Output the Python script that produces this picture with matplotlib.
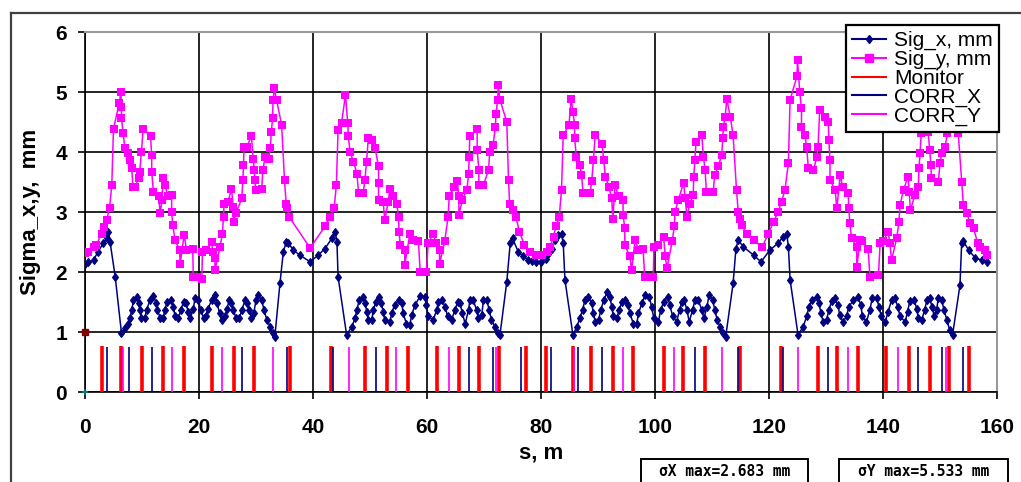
import matplotlib
matplotlib.use("Agg")
import matplotlib.pyplot as plt
from matplotlib.lines import Line2D
from matplotlib.patches import Rectangle

# ---- data ----
# Sig_x, mm
sx_s = [0.0, 0.6, 1.5, 2.3, 3.2, 3.8, 4.1, 4.4, 5.3, 6.4,
        7.0, 7.6, 7.9, 8.2, 8.5, 9.1, 9.5, 9.6, 9.9, 10.5, 10.8, 11.4, 12.0, 12.5, 12.7, 13.2,
        13.7, 14.0, 14.4, 15.0, 15.5, 15.8, 16.4, 16.8, 17.3, 17.7, 18.1, 18.5, 19.0, 19.3,
        19.9, 20.3, 20.8, 21.2, 21.6, 22.2, 22.8, 23.2, 23.6, 24.0, 24.6, 24.9, 25.3, 25.7,
        26.0, 26.5, 27.1, 27.5, 28.1, 28.5, 28.8, 29.2, 29.6, 30.0, 30.4, 31.0, 31.4, 31.9,
        32.5, 32.9, 33.3, 34.2, 34.8, 35.3, 35.7, 36.5, 37.7, 39.5,
        40.9, 42.1, 43.3, 43.9, 44.2, 44.4, 45.9, 46.8, 47.4, 47.7, 48.1, 48.8, 49.2, 49.4,
        49.7, 50.3, 50.6, 51.0, 51.6, 52.0, 52.3, 52.6, 53.5, 53.8, 54.3, 55.0, 55.6, 55.8,
        56.4, 57.0, 57.3, 57.9, 58.8, 59.6, 59.9, 60.2, 61.1, 61.7, 62.0, 62.6, 63.2, 63.6,
        64.3, 64.9, 65.4, 65.8, 66.2, 66.7, 67.3, 67.5, 68.1, 68.7, 69.0, 69.6, 69.9, 70.5,
        70.9, 71.3, 71.9, 72.5, 72.8, 74.0, 74.6, 75.0, 76.0, 76.9, 77.8, 78.5, 79.2, 80.0,
        80.8, 81.3,
        81.9, 82.5, 83.0, 83.6, 83.9, 84.2, 85.6, 86.3, 86.8, 87.3, 87.7, 88.3, 88.9, 89.2,
        89.5, 90.1, 90.5, 91.0, 91.6, 92.1, 92.4, 92.7, 93.3, 93.7, 94.2, 94.7, 95.3, 95.6,
        96.2, 96.8, 97.1, 97.7, 98.3, 99.0, 99.4, 99.8, 100.6, 101.0, 101.5, 102.2, 102.6,
        103.1, 103.8, 104.3, 104.7, 105.1, 105.6, 106.0, 106.6, 107.0, 107.6, 108.2, 108.6,
        109.1, 109.5, 110.1, 110.5, 110.9, 111.4, 112.0, 112.4, 113.7, 114.2, 114.6, 115.5,
        117.3, 118.6,
        120.2, 121.6, 122.5, 123.1, 123.4, 123.7, 125.1, 126.0, 126.6, 127.0, 127.5, 128.4,
        128.8, 129.1, 129.5, 130.1, 130.5, 131.0, 131.5, 132.1, 132.4, 133.0, 133.6, 134.0,
        134.8, 135.6, 136.1, 136.4, 137.1, 137.7, 138.1, 138.9, 139.3, 139.7, 140.4, 140.9,
        141.5, 142.1, 142.6, 143.0, 143.9, 144.3, 144.7, 145.5, 145.9, 146.2, 146.8, 147.3,
        147.7, 148.2, 148.6, 149.0, 149.4, 149.7, 150.3, 150.7, 151.2, 151.7, 152.2, 153.5,
        153.8, 154.1, 155.0, 156.2, 157.3, 158.3]
sx_v = [2.14, 2.17, 2.20, 2.34, 2.48, 2.56, 2.67, 2.50, 1.92, 0.98,
        1.06, 1.14, 1.23, 1.37, 1.53, 1.59, 1.48, 1.37, 1.23, 1.23, 1.37, 1.53, 1.60, 1.48, 1.37, 1.23,
        1.23, 1.37, 1.50, 1.53, 1.42, 1.26, 1.23, 1.37, 1.50, 1.48, 1.34, 1.23, 1.39, 1.56,
        1.53, 1.37, 1.23, 1.26, 1.39, 1.53, 1.62, 1.48, 1.31, 1.20, 1.26, 1.39, 1.53, 1.48,
        1.37, 1.23, 1.23, 1.37, 1.53, 1.48, 1.37, 1.23, 1.31, 1.53, 1.62, 1.53, 1.37, 1.20,
        1.09, 0.98, 0.92, 1.81, 2.34, 2.50, 2.48, 2.37, 2.28, 2.17,
        2.28, 2.39, 2.56, 2.67, 2.50, 1.92, 0.95, 1.09, 1.23, 1.37, 1.53, 1.59, 1.48, 1.34,
        1.20, 1.20, 1.37, 1.50, 1.59, 1.48, 1.34, 1.20, 1.17, 1.31, 1.45, 1.53, 1.48, 1.31,
        1.14, 1.12, 1.28, 1.45, 1.60, 1.59, 1.45, 1.26, 1.20, 1.37, 1.50, 1.53, 1.42, 1.26,
        1.20, 1.37, 1.50, 1.48, 1.31, 1.14, 1.37, 1.53, 1.53, 1.37, 1.23, 1.28, 1.53, 1.53,
        1.37, 1.20, 1.09, 0.98, 0.95, 1.84, 2.48, 2.56, 2.34, 2.26, 2.20, 2.18, 2.17, 2.17,
        2.22, 2.30,
        2.39, 2.53, 2.62, 2.64, 2.48, 1.87, 0.95, 1.09, 1.23, 1.37, 1.53, 1.59, 1.48, 1.31,
        1.17, 1.20, 1.37, 1.53, 1.66, 1.59, 1.42, 1.26, 1.23, 1.37, 1.50, 1.53, 1.45, 1.31,
        1.14, 1.14, 1.31, 1.48, 1.62, 1.59, 1.42, 1.23, 1.17, 1.37, 1.50, 1.59, 1.45,
        1.26, 1.17, 1.37, 1.50, 1.53, 1.37, 1.17, 1.37, 1.53, 1.53, 1.37, 1.23,
        1.42, 1.62, 1.53, 1.37, 1.20, 1.09, 0.98, 0.92, 1.81, 2.39, 2.53, 2.42,
        2.28, 2.17,
        2.37, 2.48, 2.59, 2.64, 2.42, 1.87, 0.95, 1.09, 1.26, 1.42, 1.53, 1.59,
        1.48, 1.31, 1.17, 1.20, 1.37, 1.51, 1.56, 1.45, 1.28, 1.17, 1.26, 1.42,
        1.53, 1.59, 1.45, 1.26, 1.17, 1.37, 1.56, 1.56, 1.42, 1.26, 1.17, 1.34,
        1.53, 1.56, 1.42, 1.26, 1.17, 1.34, 1.51, 1.53, 1.39, 1.23, 1.20, 1.37,
        1.53, 1.56, 1.42, 1.26, 1.37, 1.56, 1.53, 1.37, 1.20, 1.03, 0.95, 1.78,
        2.48, 2.51, 2.37, 2.23, 2.20, 2.17]

# Sig_y, mm
sy_s = [0.0, 0.6, 1.5, 2.0, 2.9, 3.3, 3.8, 4.3, 4.7, 5.0, 6.0, 6.3, 6.4, 6.4, 6.7, 7.0, 7.6,
        7.9, 8.2, 8.4, 8.8, 9.4, 9.6, 9.9, 10.2, 11.5, 11.7, 11.7, 12.0, 12.9, 13.2, 13.5,
        13.7, 14.0, 14.6, 15.2, 15.2, 15.4, 15.8, 16.6, 16.7, 17.4, 17.8, 18.9, 19.0, 19.7,
        20.5, 20.6, 21.3, 22.2, 22.4, 22.8, 22.8, 23.7, 24.1, 24.3, 24.4, 25.1, 25.7, 26.0,
        26.1, 26.5, 27.5, 27.7, 27.8, 27.9, 28.4, 29.2, 29.5, 29.7, 29.8, 30.0, 31.0, 31.2,
        31.6, 32.2, 32.5, 32.7, 32.9, 33.0, 33.2, 33.6, 34.5, 35.0, 35.3, 35.5, 35.8, 39.5,
        42.1, 43.0, 43.7, 44.1, 44.4, 45.0, 45.7, 46.1, 46.2, 46.5, 47.1, 47.7, 48.0, 48.8,
        49.1, 49.4, 49.7, 50.3, 50.9, 51.5, 51.5, 51.5, 52.3, 52.6, 53.2, 53.5, 54.1, 54.7,
        55.0, 55.1, 55.3, 56.1, 56.1, 57.0, 57.6, 58.5, 58.8, 59.9, 60.2, 61.1, 61.6, 62.2,
        62.2, 63.1, 63.7, 63.9, 64.8, 65.3, 65.6, 65.6, 66.2, 67.0, 67.3, 67.4, 67.5, 68.8,
        68.8, 69.1, 69.1, 69.9, 70.8, 71.0, 71.6, 72.0, 72.1, 72.4, 72.5, 72.8, 74.0, 74.3,
        74.5, 75.0, 75.6, 76.2, 77.1, 78.0, 79.1, 80.1, 81.0, 81.6,
        82.2, 82.6, 83.2, 83.6, 83.9, 84.9, 85.3, 85.6, 85.9, 85.9, 86.2, 86.8, 87.1, 87.4,
        88.6, 88.9, 89.2, 89.5, 90.7, 91.0, 91.3, 91.9, 92.4, 92.6, 93.0, 93.6, 94.4, 94.4,
        94.7, 94.7, 95.6, 95.9, 96.5, 97.1, 97.9, 98.2, 99.7, 99.8, 100.6, 101.5, 101.8,
        102.1, 103.0, 103.4, 103.5, 104.1, 105.0, 105.3, 105.6, 106.1, 106.7, 106.8, 107.0,
        107.2, 108.2, 108.5, 108.8, 109.0, 110.2, 110.5, 111.1, 111.7, 111.9, 112.0, 112.3,
        112.6, 113.2, 113.7, 114.3, 114.6, 114.9, 115.2, 116.1, 117.3, 118.8,
        119.9, 120.8, 121.6, 122.2, 122.8, 123.4, 123.7, 124.9, 125.0, 125.4, 125.7, 125.7,
        126.3, 126.6, 126.9, 127.8, 128.4, 128.6, 128.9, 129.8, 130.4, 130.5, 130.7, 130.7,
        131.6, 131.9, 132.5, 132.9, 133.9, 134.0, 134.2, 134.5, 135.4, 135.4, 136.0, 136.3,
        137.4, 137.7, 139.2, 139.5, 140.0, 140.9, 141.2, 141.5, 142.4, 142.8, 143.0, 143.6,
        144.4, 144.6, 144.8, 145.6, 146.2, 146.3, 146.5, 146.7, 147.0, 147.9, 148.2, 148.4,
        148.5, 149.7, 150.0, 150.3, 150.9, 151.3, 151.6, 151.9, 152.5, 153.2, 153.8, 154.1,
        154.7, 155.3, 155.9, 156.6, 157.0, 157.9, 158.3]
sy_v = [2.31, 2.34, 2.42, 2.45, 2.64, 2.75, 2.87, 3.06, 3.45, 4.39, 4.81, 5.00, 4.75, 4.56, 4.31, 4.06, 3.98,
        3.87, 3.73, 3.42, 3.42, 3.56, 3.67, 4.00, 4.39, 4.26, 3.95, 3.67, 3.34, 3.26, 2.98, 3.20,
        3.56, 3.45, 3.26, 3.28, 3.00, 2.78, 2.53, 2.37, 2.14, 2.62, 2.37, 2.39, 1.92, 1.92,
        1.89, 2.34, 2.37, 2.50, 2.34, 2.23, 2.03, 2.42, 2.64, 2.92, 3.14, 3.17, 3.39, 3.09,
        2.84, 2.98, 3.23, 3.53, 3.78, 4.09, 4.09, 4.26, 3.89, 3.70, 3.53, 3.37, 3.39, 3.70,
        3.92, 3.89, 4.06, 4.34, 4.56, 4.87, 5.06, 4.87, 4.45, 3.53, 3.14, 3.06, 2.92, 2.40,
        2.76, 2.92, 3.06, 3.45, 4.37, 4.48, 4.95, 4.48, 4.26, 4.00, 3.84, 3.64, 3.31, 3.31,
        3.53, 3.84, 4.23, 4.20, 4.06, 3.76, 3.48, 3.20, 3.17, 2.87, 3.17, 3.39, 3.26, 3.14,
        2.92, 2.67, 2.45, 2.37, 2.12, 2.64, 2.53, 2.51, 2.00, 2.00, 2.48, 2.64, 2.48, 2.37,
        2.14, 2.51, 2.92, 3.26, 3.42, 3.51, 3.26, 2.95, 3.20, 3.37, 3.64, 3.92, 4.26, 4.39,
        4.03, 3.70, 3.45, 3.45, 3.70, 4.00, 4.12, 4.42, 4.64, 4.87, 5.12, 4.87, 4.50, 3.53,
        3.14, 3.03, 2.92, 2.67, 2.45, 2.34, 2.28, 2.28, 2.34, 2.42,
        2.59, 2.76, 2.92, 3.37, 4.28, 4.45, 4.89, 4.67, 4.45, 4.23, 3.92, 3.78, 3.62, 3.31,
        3.31, 3.51, 3.87, 4.28, 4.14, 3.87, 3.59, 3.42, 3.23, 2.89, 3.45, 3.26, 3.20, 2.95,
        2.73, 2.45, 2.26, 2.03, 2.53, 2.37, 2.39, 1.92, 1.92, 2.42, 2.45, 2.59, 2.26,
        2.06, 2.51, 2.76, 3.00, 3.20, 3.48, 3.23, 2.92, 3.14, 3.28, 3.59, 3.87,
        4.17, 4.28, 3.92, 3.70, 3.34, 3.34, 3.62, 3.76, 3.95, 4.23, 4.42, 4.59,
        4.88, 4.59, 4.28, 3.37, 3.00, 2.89, 2.78, 2.64, 2.53, 2.42,
        2.64, 2.84, 3.00, 3.17, 3.37, 3.81, 4.87, 5.26, 5.53, 5.00, 4.73, 4.42,
        4.28, 4.09, 3.73, 3.70, 3.92, 4.09, 4.70, 4.59, 4.50, 4.20, 3.87, 3.53,
        3.37, 3.06, 3.62, 3.42, 3.31, 3.06, 2.81, 2.56, 2.42, 2.09, 2.53, 2.51,
        2.39, 1.92, 1.95, 2.48, 2.51, 2.67, 2.48, 2.20, 2.56, 2.84, 3.12, 3.37,
        3.59, 3.34, 3.03, 3.28, 3.42, 3.73, 3.98, 4.31, 4.60, 4.34, 4.03, 3.78,
        3.56, 3.50, 3.81, 3.98, 4.09, 4.31, 4.60, 4.90, 4.70, 4.31, 3.50, 3.12,
        2.98, 2.81, 2.73, 2.48, 2.42, 2.37, 2.28]

# element positions along s, m
monitor_s = [3.0, 6.4, 10.0, 13.6, 17.3, 22.2, 26.1, 29.6, 36.0,
             43.2, 49.2, 53.0, 56.6, 61.7, 65.6, 69.2, 72.7, 77.3,
             80.9, 85.6, 88.8, 92.7, 96.2, 101.5, 104.9, 108.8, 114.9,
             122.1, 128.6, 132.0, 135.7, 140.6, 144.5, 148.3, 151.6, 155.0]
corr_x_s = [3.8, 7.7, 11.8, 27.6, 35.4, 43.5, 51.1, 67.3, 71.5, 76.5,
            81.7, 86.5, 90.7, 107.0, 114.5, 122.5, 130.3, 146.1, 150.3, 154.1]
corr_y_s = [6.6, 15.3, 24.1, 33.0, 46.3, 54.6, 63.8, 72.1,
            85.8, 94.3, 103.4, 111.8, 125.0, 133.8, 142.6, 151.1]
monitor_h = 0.77
corr_h = 0.75

x_ticks = [0, 20, 40, 60, 80, 100, 120, 140, 160]
y_ticks = [0, 1, 2, 3, 4, 5, 6]
legend_labels = ["Sig_x, mm", "Sig_y, mm", "Monitor", "CORR_X", "CORR_Y"]
sigx_max_text = "\u03c3X max=2.683 mm"
sigy_max_text = "\u03c3Y max=5.533 mm"

NAVY = "#000080"
MAG = "#ff00ff"
RED = "#ff0000"

plt.rcParams['font.family'] = ['Liberation Sans', 'DejaVu Sans']

W, H = 1021, 482
fig = plt.figure(figsize=(W / 100, H / 100), dpi=100)
fig.patch.set_facecolor("white")

# outer chart frame (runs off the right and bottom edges)
fig.add_artist(Line2D([11 / W, 1.0], [1 - 13 / H, 1 - 13 / H], color="#404040", lw=1.6))
fig.add_artist(Line2D([11 / W, 11 / W], [0, 1 - 13 / H], color="#404040", lw=1.6))

ax = fig.add_axes([85 / W, 90 / H, 912 / W, 360 / H])
ax.set_xlim(0, 160)
ax.set_ylim(0, 6)
ax.set_xticks(x_ticks)
ax.set_yticks(y_ticks)
ax.grid(True, color="black", lw=1.2)
ax.set_axisbelow(True)

for side in ["top", "right"]:
    ax.spines[side].set_color("#999999")
    ax.spines[side].set_linewidth(1.5)
for side in ["left", "bottom"]:
    ax.spines[side].set_color("black")
    ax.spines[side].set_linewidth(1.2)

ax.tick_params(axis="both", direction="out", length=5, width=1.2, colors="black")
ax.tick_params(axis="x", pad=14)
ax.tick_params(axis="y", pad=8)
for lab in ax.get_xticklabels() + ax.get_yticklabels():
    lab.set_fontsize(15)
    lab.set_fontweight("bold")

ax.set_xlabel("s, m", fontsize=16, fontweight="bold", labelpad=4)
ax.set_ylabel("Sigma_x,y,  mm", fontsize=16, fontweight="bold", labelpad=10)

# lattice elements
ax.vlines(monitor_s, 0, monitor_h, color=RED, lw=2.6, zorder=3)
ax.vlines(corr_x_s, 0, corr_h, color=NAVY, lw=1.2, zorder=3)
ax.vlines(corr_y_s, 0, corr_h, color=MAG, lw=1.2, zorder=3)

# beam sizes
ax.plot(sx_s, sx_v, color=NAVY, lw=1.1, marker="d", ms=4.5, mew=0.8, zorder=4)
ax.plot(sy_s, sy_v, color=MAG, lw=1.1, marker="s", ms=6.3, mew=0, zorder=5)

# small series markers at the origin
ax.plot([0], [1], marker="s", color="#800000", ms=4.5, clip_on=False, zorder=6)
ax.plot([0], [0], marker="+", color="#008080", ms=5, mew=1.2, clip_on=False, zorder=6)

handles = [
    Line2D([], [], color=NAVY, lw=1.5, marker="d", ms=4.5),
    Line2D([], [], color=MAG, lw=1.5, marker="s", ms=6),
    Line2D([], [], color=RED, lw=1.5),
    Line2D([], [], color=NAVY, lw=1.5),
    Line2D([], [], color=MAG, lw=1.5),
]
leg = ax.legend(handles, legend_labels, loc="upper left",
                bbox_to_anchor=((846 - 85) / 912, (392 - 25) / 360),
                fontsize=15, frameon=True, fancybox=False, framealpha=1,
                edgecolor="black", labelspacing=-0.02, handlelength=1.6,
                handletextpad=0.4, borderpad=0.3, borderaxespad=0)
leg.get_frame().set_linewidth(1.6)
leg.set_zorder(10)

# sigma max boxes at the bottom
for x0, x1, txt in [(641, 808, sigx_max_text), (839, 1008, sigy_max_text)]:
    fig.add_artist(Rectangle((x0 / W, -0.05), (x1 - x0) / W, 0.05 + (482 - 459) / H,
                             transform=fig.transFigure, fill=False,
                             edgecolor="black", lw=1.4))
    fig.text((x0 + x1) / 2 / W, 1 - 472 / H, txt, ha="center", va="center",
             fontsize=10.5, fontweight="bold", family=["DejaVu Sans Mono"])

fig.savefig("out.png", dpi=100)
